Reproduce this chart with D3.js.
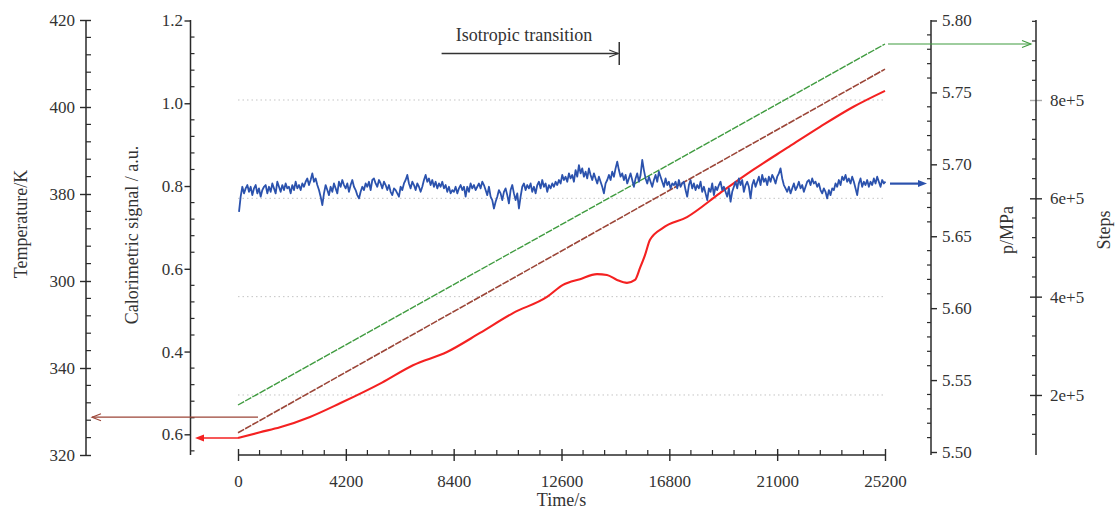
<!DOCTYPE html>
<html><head><meta charset="utf-8">
<script src="https://cdn.jsdelivr.net/npm/d3@7"></script>
<style>
body{margin:0;background:#fff}
svg{display:block}
text{font-family:"Liberation Serif","Times New Roman",serif;fill:#333}
</style>
</head><body>
<svg id="c" width="1115" height="512"></svg>
<script>
// ---------- tick definitions ----------
const timeTicks = [0, 4200, 8400, 12600, 16800, 21000, 25200];
const tempTicks = [320, 340, 360, 380, 400, 420];
const tempTickLabels = ["320", "340", "300", "380", "400", "420"];
const calTicks = [0.2, 0.4, 0.6, 0.8, 1.0, 1.2];
const calTickLabels = ["0.6", "0.4", "0.6", "0.8", "1.0", "1.2"];
const pTicks = [5.50, 5.55, 5.60, 5.65, 5.70, 5.75, 5.80];
const pTickLabels = ["5.50", "5.55", "5.60", "5.65", "5.70", "5.75", "5.80"];
const stepTicks = [2e5, 4e5, 6e5, 8e5];
const stepTickLabels = ["2e+5", "4e+5", "6e+5", "8e+5"];

// ---------- series ----------
// Steps (green, right-most axis)
const stepsTime = [0, 25200];
const stepsValues = [179600, 913900];
// Temperature (brown, left-most axis)
const tempTime = [0, 25200];
const tempValues = [325.1, 408.7];
// Calorimetric signal (red)
const calTime = [0, 857, 1636, 2804, 3973, 5609, 6816, 8140, 9426, 10711, 12035, 12658, 13321, 13983, 14372, 14762, 15151, 15463, 15658, 15852, 16047, 16553, 17488, 18774, 20059, 21384, 22669, 23954, 25200];
const calValues = [0.191, 0.205, 0.217, 0.242, 0.275, 0.325, 0.367, 0.399, 0.445, 0.493, 0.532, 0.561, 0.575, 0.587, 0.585, 0.573, 0.566, 0.573, 0.602, 0.633, 0.670, 0.699, 0.725, 0.783, 0.839, 0.892, 0.943, 0.991, 1.030];
// Pressure p/MPa (blue), sampled every pInterval seconds from pStart
const pStart = 39;
const pInterval = 64.9;
const pValues = [
5.6670,5.6775,5.6844,5.6798,5.6833,5.6856,5.6809,5.6844,5.6786,5.6833,
5.6856,5.6798,5.6833,5.6775,5.6821,5.6844,5.6856,5.6798,5.6844,5.6809,
5.6867,5.6833,5.6798,5.6879,5.6844,5.6809,5.6856,5.6821,5.6867,5.6833,
5.6844,5.6798,5.6856,5.6821,5.6879,5.6833,5.6856,5.6821,5.6867,5.6844,
5.6879,5.6902,5.6856,5.6891,5.6937,5.6879,5.6902,5.6856,5.6821,5.6775,
5.6717,5.6798,5.6856,5.6821,5.6786,5.6844,5.6809,5.6867,5.6833,5.6798,
5.6879,5.6844,5.6891,5.6856,5.6833,5.6867,5.6809,5.6856,5.6891,5.6844,
5.6821,5.6786,5.6763,5.6809,5.6844,5.6821,5.6867,5.6844,5.6879,5.6821,
5.6891,5.6902,5.6867,5.6844,5.6891,5.6867,5.6833,5.6879,5.6856,5.6821,
5.6856,5.6809,5.6786,5.6833,5.6821,5.6798,5.6775,5.6844,5.6821,5.6867,
5.6891,5.6926,5.6867,5.6833,5.6879,5.6856,5.6821,5.6867,5.6844,5.6809,
5.6844,5.6891,5.6926,5.6879,5.6902,5.6856,5.6891,5.6844,5.6879,5.6833,
5.6867,5.6844,5.6879,5.6833,5.6856,5.6809,5.6844,5.6798,5.6821,
5.6809,5.6844,5.6798,5.6833,5.6856,5.6821,5.6844,5.6775,5.6844,5.6809,
5.6867,5.6833,5.6856,5.6821,5.6844,5.6867,5.6833,5.6879,5.6856,5.6821,
5.6786,5.6844,5.6775,5.6751,5.6693,5.6740,5.6775,5.6821,5.6798,5.6751,
5.6809,5.6833,5.6786,5.6728,5.6821,5.6856,5.6798,5.6751,5.6798,5.6693,
5.6775,5.6844,5.6867,5.6821,5.6856,5.6833,5.6867,5.6809,5.6844,5.6798,
5.6856,5.6879,5.6833,5.6891,5.6844,5.6867,5.6809,5.6856,5.6833,5.6867,
5.6844,5.6879,5.6856,5.6891,5.6867,5.6926,5.6891,5.6914,5.6879,5.6937,
5.6902,5.6926,5.6879,5.6960,5.6914,5.6995,5.6937,5.6972,5.6914,5.6949,
5.6902,5.6972,5.6926,5.6891,5.6937,5.6902,5.6867,5.6914,5.6879,5.6844,
5.6798,5.6867,5.6891,5.6926,5.6891,5.6949,5.6914,5.6972,5.7018,5.6960,
5.6914,5.6937,5.6891,5.6926,5.6867,5.6902,5.6937,5.6891,5.6844,5.6902,
5.6937,5.6879,5.6926,5.7030,5.6960,5.6902,5.6867,5.6914,5.6879,5.6844,
5.6891,5.6926,5.6879,5.6949,5.6914,5.6879,5.6844,5.6902,5.6856,5.6879,
5.6833,5.6867,
5.6856,5.6879,5.6833,5.6891,5.6844,5.6867,5.6879,5.6821,5.6775,5.6856,
5.6891,5.6833,5.6867,5.6821,5.6856,5.6833,5.6879,5.6809,5.6844,5.6798,
5.6751,5.6833,5.6809,5.6867,5.6786,5.6844,5.6821,5.6856,5.6879,5.6821,
5.6844,5.6809,5.6775,5.6833,5.6740,5.6809,5.6844,5.6879,5.6833,5.6902,
5.6856,5.6891,5.6809,5.6856,5.6879,5.6844,5.6763,5.6856,5.6891,5.6844,
5.6879,5.6914,5.6856,5.6926,5.6879,5.6902,5.6856,5.6914,5.6879,5.6926,
5.6902,5.6867,5.6914,5.6937,5.6972,5.6902,5.6856,5.6833,5.6809,5.6844,
5.6798,5.6833,5.6867,5.6821,5.6844,5.6879,5.6833,5.6856,5.6809,5.6844,
5.6879,5.6891,5.6856,5.6902,5.6867,5.6879,5.6844,5.6867,5.6821,5.6798,
5.6833,5.6809,5.6763,5.6821,5.6786,5.6833,5.6821,5.6867,5.6844,5.6891,
5.6856,5.6914,5.6891,5.6926,5.6879,5.6902,5.6867,5.6914,5.6879,5.6833,
5.6786,5.6867,5.6902,5.6844,5.6879,5.6856,5.6891,5.6844,5.6879,5.6856,
5.6902,5.6867,5.6914,5.6879,5.6844,5.6891,5.6867,5.6879
];

// annotation values
const isoStartTime = 7930, isoEndTime = 14810;
const tempArrowStartTime = 780, tempArrowValue = 328.7;

// ---------- layout ----------
const svg = d3.select("#c");
const COL = {green:"#3f9b3f", brown:"#9b4537", red:"#f42121", blue:"#2b52ad", axis:"#2a2a2a", grid:"#c4c4c4"};
const TOP = 20, BOT = 455;

const x = d3.scaleLinear([0, 25200], [238, 885]);
const yT = d3.scaleLinear([320, 420], [455, 20]);
const yC = d3.scaleLinear([0.15, 1.2], [455, 20.5]);
const yP = d3.scaleLinear([5.5, 5.8], [452, 20.5]);
const yS = d3.scaleLinear([77900, 962700], [455, 20]);

// ---------- grid ----------
svg.append("g").selectAll("line").data(stepTicks).join("line")
  .attr("x1", x(0)).attr("x2", x(25200))
  .attr("y1", d => yS(d)).attr("y2", d => yS(d))
  .attr("stroke", COL.grid).attr("stroke-width", 1).attr("stroke-dasharray", "1.5,3");

// ---------- vertical axis helper ----------
function vAxis(xpos, scale, majors, labels, minors, labelSide, majL, majR, minL, minR, pad, majorColor) {
  const g = svg.append("g").attr("transform", `translate(${xpos},0)`);
  const ax = (labelSide === "left" ? d3.axisLeft(scale) : d3.axisRight(scale))
    .tickValues(majors).tickFormat((d, i) => labels[i]).tickSize(0).tickSizeOuter(0).tickPadding(pad);
  g.call(ax);
  g.select(".domain").remove();
  g.attr("font-size", null).attr("font-family", null);
  g.selectAll(".tick text").attr("font-size", 17).attr("fill", "#333");
  g.selectAll(".tick line").attr("x1", -majL).attr("x2", majR)
    .attr("stroke", (d) => (majorColor && majorColor(d)) || COL.axis).attr("stroke-width", 1.4);
  g.append("g").selectAll("line").data(minors).join("line")
    .attr("x1", -minL).attr("x2", minR).attr("y1", d => scale(d)).attr("y2", d => scale(d))
    .attr("stroke", COL.axis).attr("stroke-width", 1.2);
  g.append("line").attr("x1", 0).attr("x2", 0).attr("y1", TOP).attr("y2", BOT)
    .attr("stroke", COL.axis).attr("stroke-width", 1.5);
  return g;
}
const notMajor = (arr, step) => arr.filter(v => Math.abs(v / step - Math.round(v / step)) > 1e-6);

vAxis(86, yT, tempTicks, tempTickLabels, notMajor(d3.range(320, 420.01, 4), 20), "left", 6, 5, 0, 5, 11);
vAxis(190.5, yC, calTicks, calTickLabels, notMajor(d3.range(0.16, 1.2001, 0.04).map(v => +v.toFixed(2)), 0.2), "left", 6, 0, 0, 4, 7.5);
vAxis(931, yP, pTicks, pTickLabels, notMajor(d3.range(5.50, 5.8001, 0.01).map(v => +v.toFixed(2)), 0.05), "right", 0, 6, 4, 0, 11);
vAxis(1036, yS, stepTicks, stepTickLabels, notMajor(d3.range(120000, 962000, 40000), 200000), "right", 6, 6, 4, 0, 14, d => d === 8e5 ? "#aaa" : null);

// ---------- time axis ----------
const gx = svg.append("g").attr("transform", `translate(0,${BOT})`);
gx.call(d3.axisBottom(x).tickValues(timeTicks).tickFormat(d3.format("d")).tickSize(0).tickSizeOuter(0).tickPadding(20));
gx.select(".domain").remove();
gx.attr("font-size", null).attr("font-family", null);
gx.selectAll(".tick text").attr("font-size", 17).attr("fill", "#333");
gx.selectAll(".tick line").attr("y1", -6).attr("y2", 6).attr("stroke", COL.axis).attr("stroke-width", 1.4);
gx.append("g").selectAll("line").data(notMajor(d3.range(840, 25200, 840), 4200)).join("line")
  .attr("x1", d => x(d)).attr("x2", d => x(d)).attr("y1", -5).attr("y2", 0)
  .attr("stroke", COL.axis).attr("stroke-width", 1.2);
gx.append("line").attr("x1", x(0)).attr("x2", x(25200)).attr("y1", 0).attr("y2", 0)
  .attr("stroke", COL.axis).attr("stroke-width", 1.5);

// ---------- axis titles ----------
function vTitle(cx, cy, txt) {
  svg.append("text").attr("transform", `translate(${cx},${cy}) rotate(-90)`)
    .attr("text-anchor", "middle").attr("dominant-baseline", "central")
    .attr("font-size", 18).text(txt);
}
vTitle(21, 224, "Temperature/K");
vTitle(132, 235, "Calorimetric signal / a.u.");
vTitle(1007, 230, "p/MPa");
vTitle(1104, 230, "Steps");
svg.append("text").attr("x", x(12600)).attr("y", 506).attr("text-anchor", "middle")
  .attr("font-size", 18).text("Time/s");

// ---------- series ----------
const zip = (t, v) => t.map((d, i) => [d, v[i]]);
const pTime = pValues.map((_, i) => pStart + i * pInterval);

svg.append("path").datum(zip(stepsTime, stepsValues))
  .attr("d", d3.line().x(d => x(d[0])).y(d => yS(d[1])))
  .attr("fill", "none").attr("stroke", COL.green).attr("stroke-width", 1.4).attr("stroke-dasharray", "7,1.2");
svg.append("path").datum(zip(tempTime, tempValues))
  .attr("d", d3.line().x(d => x(d[0])).y(d => yT(d[1])))
  .attr("fill", "none").attr("stroke", COL.brown).attr("stroke-width", 1.6).attr("stroke-dasharray", "7,1.2");
svg.append("path").datum(zip(calTime, calValues))
  .attr("d", d3.line().curve(d3.curveMonotoneX).x(d => x(d[0])).y(d => yC(d[1])))
  .attr("fill", "none").attr("stroke", COL.red).attr("stroke-width", 2.1);
svg.append("path").datum(zip(pTime, pValues))
  .attr("d", d3.line().x(d => x(d[0])).y(d => yP(d[1])))
  .attr("fill", "none").attr("stroke", COL.blue).attr("stroke-width", 1.8).attr("stroke-linejoin", "round");

// ---------- series arrows ----------
function arrow(x1, x2, y, color, w, filled) {
  const dir = Math.sign(x2 - x1);
  const L = 9, H = 3.5;
  const base = x2 - dir * L;
  svg.append("line").attr("x1", x1).attr("x2", filled ? base : x2).attr("y1", y).attr("y2", y)
    .attr("stroke", color).attr("stroke-width", w);
  if (filled) {
    svg.append("path").attr("d", `M${x2},${y}L${base},${y - H}L${base},${y + H}Z`).attr("fill", color);
  } else {
    svg.append("path").attr("d", `M${base},${y - H}L${x2},${y}L${base},${y + H}`)
      .attr("fill", "none").attr("stroke", color).attr("stroke-width", 1.1);
  }
}
arrow(x(tempArrowStartTime), 92, yT(tempArrowValue), COL.brown, 1.3, false);
arrow(x(calTime[0]), 195, yC(calValues[0]), COL.red, 1.5, true);
arrow(x(25200) + 5, 927, yP(5.6866), COL.blue, 2.2, true);
arrow(x(25200) + 3, 1031, yS(stepsValues[1]), COL.green, 1.2, false);

// ---------- isotropic transition annotation ----------
svg.append("text").attr("x", (x(isoStartTime) + x(isoEndTime)) / 2 - 6).attr("y", 41)
  .attr("text-anchor", "middle").attr("font-size", 18).text("Isotropic transition");
arrow(x(isoStartTime), x(isoEndTime), 53.5, "#333", 1.4, false);
svg.append("line").attr("x1", x(isoEndTime) + 1).attr("x2", x(isoEndTime) + 1).attr("y1", 42).attr("y2", 65)
  .attr("stroke", "#333").attr("stroke-width", 1.5);
</script>
</body></html>
